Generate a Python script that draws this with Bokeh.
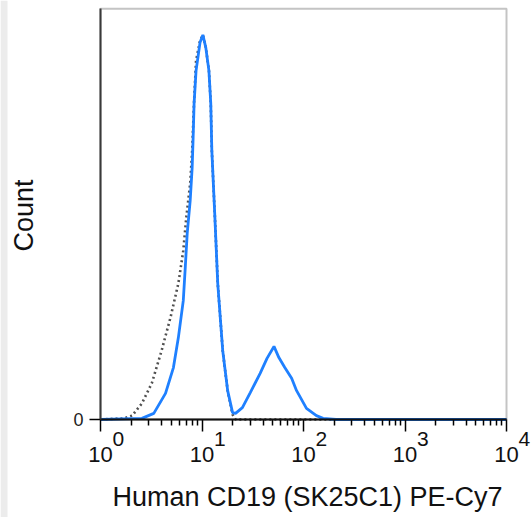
import math
from bokeh.plotting import figure
from bokeh.models import FixedTicker, Range1d, BoxAnnotation, Label
from bokeh.core.properties import value
from bokeh.embed import file_html
from bokeh.resources import INLINE

# ---- data ----
stained_x = [1.0, 2.56, 3.35, 4.37, 5.23, 5.85, 6.54, 6.84, 7.15, 7.65, 8.0, 8.18, 8.36, 8.74,
             9.56, 10.2, 10.9, 11.7, 12.2, 12.5, 13.4, 14.3, 16.0, 17.9, 20.0, 21.4,
             25.0, 29.9, 37.4, 43.7, 51.2, 57.2, 65.4, 76.4, 85.5, 107, 134, 156, 209, 10000]
stained_count = [0, 3, 16, 68, 135, 213, 309, 395, 484, 569, 655, 733, 822, 907,
                 980, 1000, 967, 907, 822, 699, 525, 353, 179, 75, 18, 16,
                 31, 70, 120, 159, 190, 161, 135, 107, 75, 29, 10, 3, 0, 0]

control_x = [1.0, 1.71, 2.05, 2.56, 3.20, 4.00, 4.89, 5.85, 6.54, 7.00, 7.65, 8.00, 8.36, 8.74,
             9.56, 10.2, 10.9, 11.7, 12.2, 12.5, 13.4, 14.3, 16.0, 17.9, 20.0, 21.4, 10000]
control_count = [0, 3, 10, 42, 94, 179, 265, 354, 439, 525, 614, 699, 829, 933,
                 985, 1000, 967, 907, 822, 699, 525, 353, 179, 75, 13, 0, 0]

x_ticks = [1, 10, 100, 1000, 10000]
x_tick_base = ["10", "10", "10", "10", "10"]
x_tick_exp = ["0", "1", "2", "3", "4"]
x_minor = [m * d for d in [1, 10, 100, 1000] for m in range(2, 10)]
y_ticks = [0]
y_tick_labels = ["0"]
y_max = 1068
x_title = "Human CD19 (SK25C1) PE-Cy7"
y_title = "Count"

FONT = "Liberation Sans"
TEXT = "#111111"

# geometry (pixels)
W, H = 531, 517
X0 = 100        # pixel column of 10^0
DEC = 101.5     # pixels per decade
Y0 = 419        # pixel row of count 0
PPX = 2.6       # counts per pixel

p = figure(width=W, height=H, x_axis_type="log",
           x_range=Range1d(10 ** (-X0 / DEC), 10 ** ((W - X0) / DEC)),
           y_range=Range1d(-(H - Y0) * PPX, Y0 * PPX),
           output_backend="svg", toolbar_location=None, min_border=0,
           min_border_left=0, min_border_right=0, min_border_top=0, min_border_bottom=0)

p.background_fill_color = "white"
p.border_fill_color = "white"
p.outline_line_color = None
p.xgrid.visible = False
p.ygrid.visible = False

# light grey strip at the left edge
p.add_layout(BoxAnnotation(left=0, right=7, left_units="screen", right_units="screen",
                           fill_color="#ececec", fill_alpha=1, line_color=None))

# plot box
p.add_layout(BoxAnnotation(left=x_ticks[0], right=x_ticks[-1], bottom=0, top=y_max,
                           fill_alpha=0, line_color="#3a3a3a", line_width=2))

p.line(control_x, control_count, line_color="#505050", line_width=2.6, line_dash="2 3")
p.line(stained_x, stained_count, line_color="#1f80ff", line_width=2.8)

# x axis (drawn at count 0)
xa = p.xaxis[0]
xa.fixed_location = 0
xa.bounds = (x_ticks[0], x_ticks[-1])
xa.ticker = FixedTicker(ticks=x_ticks, minor_ticks=x_minor)
xa.major_label_overrides = {t: b for t, b in zip(x_ticks, x_tick_base)}
xa.major_label_text_font = FONT
xa.major_label_text_font_size = "22px"
xa.major_label_text_color = TEXT
xa.major_label_standoff = 15
xa.major_tick_out = 12
xa.major_tick_in = 0
xa.minor_tick_out = 6
xa.minor_tick_in = 0
xa.major_tick_line_color = "black"
xa.minor_tick_line_color = "black"
xa.major_tick_line_width = 1.5
xa.minor_tick_line_width = 1.5
xa.axis_line_color = "black"
xa.axis_line_width = 2
xa.axis_label = None

# exponents of the decade labels
p.text(x=x_ticks, y=[0] * len(x_ticks), text=x_tick_exp,
       x_offset=12, y_offset=19, text_align="left", text_baseline="alphabetic",
       text_font=value(FONT), text_font_size="21px", text_color=TEXT)

# y axis (drawn at 10^0)
ya = p.yaxis[0]
ya.fixed_location = x_ticks[0]
ya.bounds = (0, y_max)
ya.ticker = FixedTicker(ticks=y_ticks)
ya.major_label_overrides = {t: s for t, s in zip(y_ticks, y_tick_labels)}
ya.major_label_text_font = FONT
ya.major_label_text_font_size = "18px"
ya.major_label_text_color = "#222222"
ya.major_label_standoff = 6
ya.major_tick_out = 11
ya.major_tick_in = 0
ya.minor_tick_line_color = None
ya.major_tick_line_color = "black"
ya.major_tick_line_width = 1.5
ya.axis_line_color = "#3a3a3a"
ya.axis_line_width = 2
ya.axis_label = None

# axis titles
p.add_layout(Label(x=307, y=H - 496, x_units="screen", y_units="screen", text=x_title,
                   text_align="center", text_baseline="alphabetic",
                   text_font=FONT, text_font_size="27px", text_color=TEXT))
p.add_layout(Label(x=23, y=H - 215, x_units="screen", y_units="screen", text=y_title,
                   angle=90, angle_units="deg",
                   text_align="center", text_baseline="alphabetic",
                   text_font=FONT, text_font_size="27px", text_color=TEXT))

open("out.html", "w").write(file_html(p, INLINE))
